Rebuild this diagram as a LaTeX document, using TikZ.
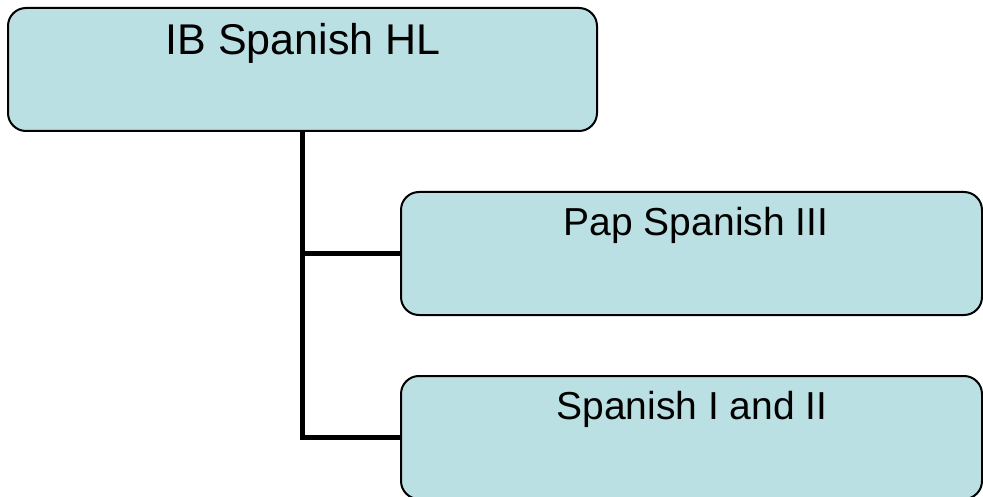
\documentclass[tikz,border=0pt]{standalone}
\usepackage{fontspec}
\setmainfont{Liberation Sans}
\definecolor{boxfill}{RGB}{187,224,227}
\tikzset{
  box/.style={draw=black, line width=2pt, fill=boxfill, rounded corners=18pt, inner sep=0pt},
  conn/.style={draw=black, line width=5pt, line join=miter},
  bigtxt/.style={anchor=base, inner sep=0pt, font=\fontsize{43}{50}\selectfont},
  smalltxt/.style={anchor=base, inner sep=0pt, font=\fontsize{39}{46}\selectfont}
}
\begin{document}
\begin{tikzpicture}[x=1pt,y=-1pt]
\useasboundingbox (0,0) rectangle (983,497);
\clip (0,0) rectangle (983,497);
\node[box, minimum width=589pt, minimum height=123pt] (top) at (302.5,69.5) {};
\node[box, minimum width=581pt, minimum height=123pt] (c1) at (691.5,253.5) {};
\node[box, minimum width=581pt, minimum height=123pt] (c2) at (691.5,437.5) {};
\draw[conn] (top.south) |- (c1.west);
\draw[conn] (top.south) |- (c2.west);
\node[bigtxt] (t0) at (303,55) {IB Spanish HL};
\node[smalltxt] (t1) at (696,236) {Pap Spanish III};
\node[smalltxt] (t2) at (692,419) {Spanish I and II};
\end{tikzpicture}
\end{document}
